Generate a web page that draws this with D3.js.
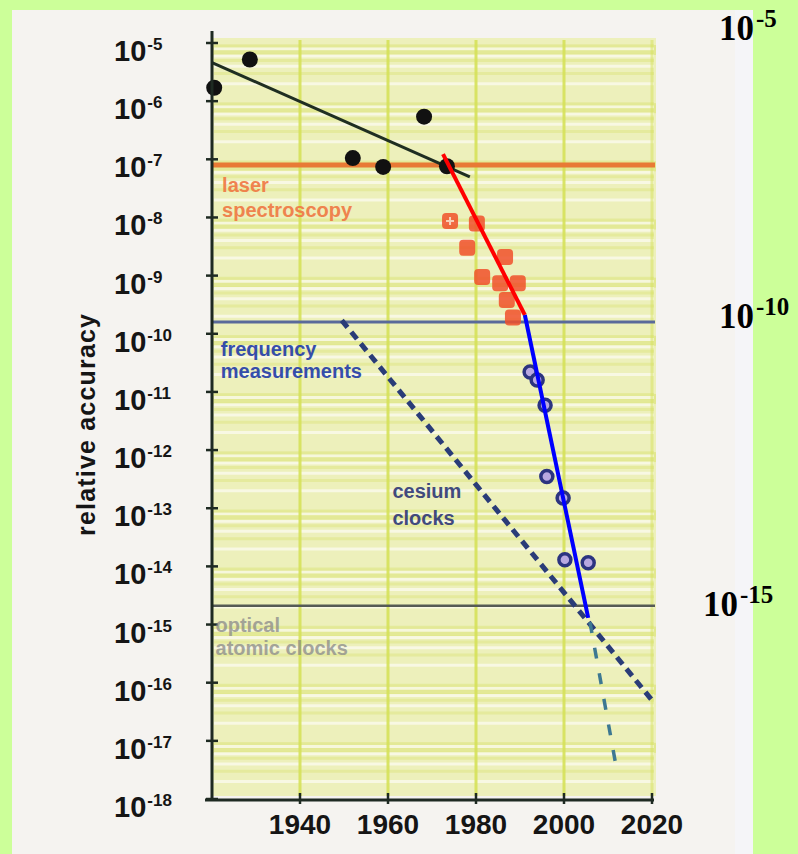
<!DOCTYPE html>
<html>
<head>
<meta charset="utf-8">
<script src="https://cdnjs.cloudflare.com/ajax/libs/d3/7.8.5/d3.min.js"></script>
<style>
body{margin:0;background:#ccff99;}
svg{display:block;}
</style>
</head>
<body>
<svg id="chart" width="798" height="854"></svg>
<script>
///--------------------Données
var annees = [1940, 1960, 1980, 2000, 2020];
var decades = [-5, -6, -7, -8, -9, -10, -11, -12, -13, -14, -15, -16, -17, -18];
// année, précision relative
var ptsNoirs = [[1920.5, 1.7e-6], [1928.6, 5.2e-6], [1952.0, 1.05e-7], [1958.9, 7.4e-8], [1968.2, 5.4e-7], [1973.4, 7.6e-8]];
var ptsLaser = [[1974.1, 8.7e-9], [1980.2, 7.9e-9], [1978.0, 3.0e-9], [1986.6, 2.1e-9], [1981.4, 9.5e-10],
                [1985.5, 7.4e-10], [1989.5, 7.4e-10], [1987.0, 3.8e-10], [1988.4, 1.9e-10]];
var ptsFreq = [[1992.3, 2.2e-11], [1993.9, 1.6e-11], [1995.7, 5.9e-12], [1996.1, 3.5e-13], [1999.8, 1.5e-13], [2000.2, 1.3e-14], [2005.5, 1.15e-14]];
var ligneNoire = [[1920, 4.6e-6], [1978.6, 5.0e-8]];
var ligneRouge = [[1972.5, 1.23e-7], [1991.1, 2.1e-10]];
var ligneBleue = [[1991.1, 2.1e-10], [2005.5, 1.3e-15]];
var ligneCesium = [[1949.5, 1.7e-10], [2020, 5.0e-17]];
var ligneOptique = [[2005.9, 1.1e-15], [2011.8, 3.8e-18]];
var niveaux = [8e-8, 1.6e-10, 2.1e-15];
var etiquettes = [
	{lignes: ["laser", "spectroscopy"], x: 1922.3, y: 2.7e-8},
	{lignes: ["frequency", "measurements"], x: 1922, y: 4.2e-11},
	{lignes: ["cesium", "clocks"], x: 1961, y: 1.5e-13},
	{lignes: ["optical", "atomic clocks"], x: 1920.8, y: 7.4e-16}
];
var grosLabels = [-5, -10, -15];

///--------------------Géométrie
var svg = d3.select("#chart");
var x = d3.scaleLinear().domain([1920, 2020]).range([212, 652]);
var y = d3.scaleLog().domain([1e-18, 1e-5]).range([799, 43]);

///--------------------Dessin
build_fond();
build_courbes();
build_axes();
build_textes();

function build_fond(){
	// panneau blanc
	svg.append("rect").attr("x", 12).attr("y", 10).attr("width", 741).attr("height", 844).attr("fill", "#f5f3f0");
	svg.append("rect").attr("x", 735).attr("y", 10).attr("width", 18).attr("height", 844).attr("fill", "#f5f5f8");

	var fond = svg.append("g");
	fond.append("rect")
		.attr("x", 212).attr("y", 38).attr("width", 444).attr("height", 758)
		.attr("fill", "#edf0bb");
	decades.forEach(function(d, i){
		if(d == -18) return;
		var y0 = y(Math.pow(10, d));
		fond.append("rect")
			.attr("x", 212).attr("width", 444)
			.attr("y", y0 + 2).attr("height", 10)
			.attr("fill", "#dfe686").attr("opacity", 0.8);
		[2, 3, 4, 5, 6, 7, 8, 9].forEach(function(m, j){
			fond.append("line")
				.attr("x1", 214).attr("x2", 654)
				.attr("y1", y(m * Math.pow(10, d - 1)))
				.attr("y2", y(m * Math.pow(10, d - 1)))
				.attr("stroke", j % 2 == 0 ? "#fafaea" : "#e4ea98")
				.attr("stroke-width", 3)
				.attr("opacity", 0.85);
		});
	});
	fond.selectAll(".vgrille")
		.data(annees)
		.enter().append("line")
		.attr("x1", function(d){ return x(d); })
		.attr("x2", function(d){ return x(d); })
		.attr("y1", 40).attr("y2", 796)
		.attr("stroke", "#d6e25a")
		.attr("stroke-width", 3)
		.attr("opacity", function(d){ return d == 2020 ? 0.5 : 0.9; });

	// niveaux horizontaux
	var couleurs = ["#e87a35", "#5a6a9a", "#555a55"];
	var epais = [5, 3, 2.5];
	niveaux.forEach(function(v, i){
		svg.append("line")
			.attr("x1", 212).attr("x2", 655)
			.attr("y1", y(v)).attr("y2", y(v))
			.attr("stroke", couleurs[i])
			.attr("stroke-width", epais[i]);
	});
}

function build_courbes(){
	var ligne = d3.line().x(function(d){ return x(d[0]); }).y(function(d){ return y(d[1]); });

	svg.append("path").attr("d", ligne(ligneCesium))
		.attr("fill", "none").attr("stroke", "#2a3c78").attr("stroke-width", 5)
		.attr("stroke-dasharray", "9,6");
	svg.append("path").attr("d", ligne(ligneOptique))
		.attr("fill", "none").attr("stroke", "#3d7892").attr("stroke-width", 3.5)
		.attr("stroke-dasharray", "11,15");

	svg.append("path").attr("d", ligne(ligneNoire))
		.attr("fill", "none").attr("stroke", "#1f2e22").attr("stroke-width", 3);

	// carrés laser
	svg.selectAll(".laser")
		.data(ptsLaser)
		.enter().append("rect")
		.attr("x", function(d){ return x(d[0]) - 8; })
		.attr("y", function(d){ return y(d[1]) - 8; })
		.attr("width", 16).attr("height", 16)
		.attr("rx", 4)
		.attr("fill", "#f0502a")
		.attr("opacity", 0.85);
	svg.selectAll(".croix")
		.data(ptsLaser.slice(0, 1))
		.enter().append("path")
		.attr("d", function(d){
			var cx = x(d[0]), cy = y(d[1]);
			return "M" + (cx - 4) + "," + cy + "H" + (cx + 4) + "M" + cx + "," + (cy - 4) + "V" + (cy + 4);
		})
		.attr("stroke", "#f8d0b8").attr("stroke-width", 2);

	svg.selectAll(".noir")
		.data(ptsNoirs)
		.enter().append("circle")
		.attr("cx", function(d){ return x(d[0]); })
		.attr("cy", function(d){ return y(d[1]); })
		.attr("r", 8)
		.attr("fill", "#111");

	svg.selectAll(".freq")
		.data(ptsFreq)
		.enter().append("circle")
		.attr("cx", function(d){ return x(d[0]); })
		.attr("cy", function(d){ return y(d[1]); })
		.attr("r", 6)
		.attr("fill", "#b8a8e0")
		.attr("stroke", "#2c3480")
		.attr("stroke-width", 3.5);

	svg.append("path").attr("d", ligne(ligneRouge))
		.attr("fill", "none").attr("stroke", "#ff0000").attr("stroke-width", 4);
	svg.append("path").attr("d", ligne(ligneBleue))
		.attr("fill", "none").attr("stroke", "#0000ff").attr("stroke-width", 4);
}

function build_axes(){
	var axe = svg.append("g").attr("stroke", "#1e2a22").attr("stroke-width", 3);
	axe.append("line").attr("x1", 212).attr("x2", 212).attr("y1", 31).attr("y2", 801);
	axe.append("line").attr("x1", 205).attr("x2", 654).attr("y1", 800).attr("y2", 800);

	svg.selectAll(".ytick")
		.data(decades)
		.enter().append("line")
		.attr("x1", 206).attr("x2", 218)
		.attr("y1", function(d){ return y(Math.pow(10, d)); })
		.attr("y2", function(d){ return y(Math.pow(10, d)); })
		.attr("stroke", "#1e2a22").attr("stroke-width", 2.5);

	svg.selectAll(".xtick")
		.data(annees)
		.enter().append("line")
		.attr("x1", function(d){ return x(d); })
		.attr("x2", function(d){ return x(d); })
		.attr("y1", 793).attr("y2", 804)
		.attr("stroke", "#1e2a22").attr("stroke-width", 2.5);

	var lab = svg.selectAll(".ylab")
		.data(decades)
		.enter().append("text")
		.attr("x", 114)
		.attr("y", function(d){ return y(Math.pow(10, d)) + 18; })
		.attr("font-family", "Liberation Sans, Arial, sans-serif")
		.attr("font-weight", "bold")
		.attr("font-size", 29)
		.attr("fill", "#151515");
	lab.append("tspan").text("10");
	lab.append("tspan")
		.text(function(d){ return d; })
		.attr("dy", -11)
		.attr("dx", 1)
		.attr("font-size", 17);

	svg.selectAll(".xlab")
		.data(annees)
		.enter().append("text")
		.attr("x", function(d){ return x(d); })
		.attr("y", 834)
		.attr("text-anchor", "middle")
		.attr("font-family", "Liberation Sans, Arial, sans-serif")
		.attr("font-weight", "bold")
		.attr("font-size", 28)
		.attr("fill", "#151515")
		.text(function(d){ return d; });

	svg.append("text")
		.attr("transform", "translate(95,425) rotate(-90)")
		.attr("text-anchor", "middle")
		.attr("font-family", "Liberation Sans, Arial, sans-serif")
		.attr("font-weight", "bold")
		.attr("font-size", 25)
		.attr("textLength", 222)
		.attr("fill", "#151515")
		.text("relative accuracy");
}

function build_textes(){
	var couleurs = ["#f07a45", "#2640a8", "#333c78", "#8a8a8a"];
	var pas = [25, 22, 27, 23];
	etiquettes.forEach(function(e, i){
		e.lignes.forEach(function(t, j){
			svg.append("text")
				.attr("x", x(e.x))
				.attr("y", y(e.y) + j * pas[i])
				.attr("font-family", "Liberation Sans, Arial, sans-serif")
				.attr("font-weight", "bold")
				.attr("font-size", 20)
				.attr("fill", couleurs[i])
				.attr("opacity", i == 3 ? 0.75 : 0.92)
				.text(t);
		});
	});

	var gx = [719, 719, 703];
	grosLabels.forEach(function(d, i){
		var t = svg.append("text")
			.attr("x", gx[i])
			.attr("y", y(Math.pow(10, d)) - 3 - i * 3)
			.attr("font-family", "Liberation Serif, Times New Roman, serif")
			.attr("font-weight", "bold")
			.attr("font-size", 35)
			.attr("fill", "#000");
		t.append("tspan").text("10");
		t.append("tspan").text(d).attr("dy", -13).attr("font-size", 25).attr("dx", 2);
	});
}
</script>
</body>
</html>
